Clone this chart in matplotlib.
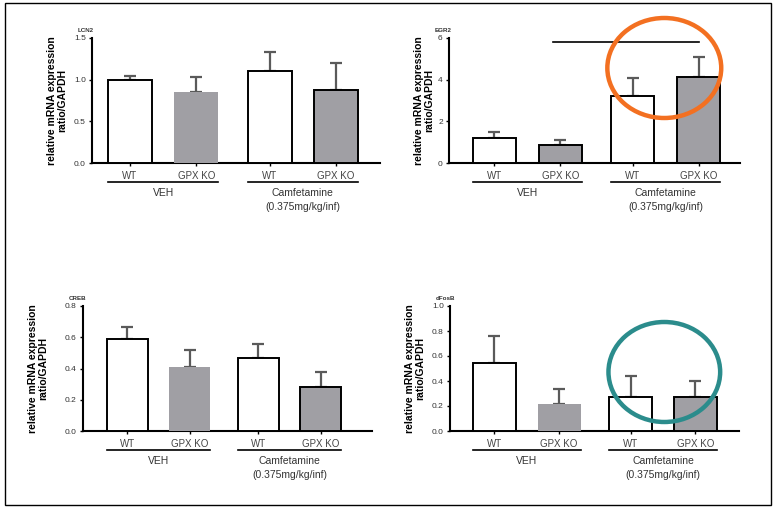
import numpy as np
import matplotlib
matplotlib.use("Agg")
import matplotlib.pyplot as plt
from matplotlib.patches import Ellipse, Rectangle
import matplotlib.transforms as mtransforms

plt.rcParams['font.family'] = ['Liberation Sans', 'DejaVu Sans']

# data
groups = ["WT", "GPX KO", "WT", "GPX KO"]
treatments = ["VEH", "Camfetamine\n(0.375mg/kg/inf)"]
ylab = "relative mRNA expression\nratio/GAPDH"

lcn2_mean = [1.00, 0.85, 1.10, 0.88]
lcn2_sem = [0.05, 0.18, 0.23, 0.32]
egr2_mean = [1.20, 0.88, 3.22, 4.15]
egr2_sem = [0.28, 0.24, 0.88, 0.95]
creb_mean = [0.59, 0.41, 0.47, 0.28]
creb_sem = [0.075, 0.11, 0.085, 0.095]
dfosb_mean = [0.545, 0.215, 0.275, 0.275]
dfosb_sem = [0.215, 0.125, 0.165, 0.125]

xpos = np.array([0, 1, 2.1, 3.1])
bw = 0.66
gray = '#a09fa4'

W, H = 780, 508
fig = plt.figure(figsize=(W/100, H/100), dpi=100)

def px_axes(l, r, t, b):
    return fig.add_axes([l/W, 1 - b/H, (r-l)/W, (b-t)/H])

panels = [
    # name, mean, sem, ylim, yticks, fmt, axes px, xlim, gpx VEH edge, ylabel x
    ("LCN2", lcn2_mean, lcn2_sem, 1.5, np.arange(0, 1.51, 0.5), "%.1f",
     (92, 380, 38, 163), (-0.57, 3.76), False, -0.085),
    ("EGR2", egr2_mean, egr2_sem, 6, np.arange(0, 6.1, 2), "%d",
     (449, 740, 38, 163), (-0.69, 3.73), True, -0.05),
    ("CREB", creb_mean, creb_sem, 0.8, np.arange(0, 0.81, 0.2), "%.1f",
     (83, 372, 306, 431), (-0.71, 3.92), False, -0.12),
    ("dFosB", dfosb_mean, dfosb_sem, 1.0, np.arange(0, 1.01, 0.2), "%.1f",
     (450, 739, 306, 431), (-0.68, 3.77), False, -0.085),
]

axes = []
for name, mean, sem, ymax, yt, fmt, box, xl, edge2, ylx in panels:
    ax = px_axes(*box)
    axes.append(ax)
    faces = ['white', gray, 'white', gray]
    edges = ['black', 'black' if edge2 else 'none', 'black', 'black']
    ax.bar(xpos, mean, width=bw, color=faces, edgecolor=edges, linewidth=1.4, zorder=3)
    ax.errorbar(xpos, mean, yerr=[np.zeros(4), sem], fmt='none', ecolor='#5a5a5a',
                elinewidth=1.6, capsize=4.5, capthick=1.6, zorder=2)
    ax.set_xlim(*xl)
    ax.set_ylim(0, ymax)
    ax.set_yticks(yt)
    ax.set_yticklabels([fmt % v for v in yt], fontsize=6, color='#333333')
    ax.set_xticks(xpos)
    ax.set_xticklabels(groups, fontsize=7, color='#444444')
    ax.tick_params(axis='y', length=2.5, width=1, pad=2)
    ax.tick_params(axis='x', length=2.5, width=1, pad=3)
    for s in ['top', 'right']:
        ax.spines[s].set_visible(False)
    ax.spines['left'].set_linewidth(1.5)
    ax.spines['bottom'].set_linewidth(1.5)
    ax.set_ylabel(ylab, fontsize=7.5, fontweight='bold', linespacing=1.1)
    ax.yaxis.set_label_coords(ylx, 0.5)
    ax.text(-0.05, 1.06, name, transform=ax.transAxes, fontsize=4.5,
            fontweight='bold', color='#333333', ha='left', va='center')
    # treatment group lines and labels
    tr = mtransforms.blended_transform_factory(ax.transData, ax.transAxes)
    for i, lab in enumerate(treatments):
        x0 = xpos[2*i] - bw/2
        x1 = xpos[2*i+1] + bw/2
        ax.plot([x0, x1], [-0.152, -0.152], color='black', lw=1.2,
                transform=tr, clip_on=False)
        ax.text((x0 + x1)/2, -0.20, lab, transform=tr, fontsize=7.5,
                ha='center', va='top', color='#333333', linespacing=1.5)

# EGR2 significance line
axes[1].plot([0.89, 3.11], [5.8, 5.8], color='black', lw=1.2, clip_on=False)

# highlight circles
axes[1].add_patch(Ellipse((2.58, 4.56), 1.73, 4.8, fill=False, edgecolor='#f37021',
                          lw=3.2, clip_on=False, zorder=5))
axes[3].add_patch(Ellipse((2.62, 0.472), 1.72, 0.80, fill=False, edgecolor='#2b8c8c',
                          lw=3.2, clip_on=False, zorder=5))

# outer frame
fig.patches.append(Rectangle((5/W, 1 - 505/H), 766/W, 502/H, transform=fig.transFigure,
                             fill=False, edgecolor='black', lw=1.0))

fig.savefig("out.png", dpi=100)
